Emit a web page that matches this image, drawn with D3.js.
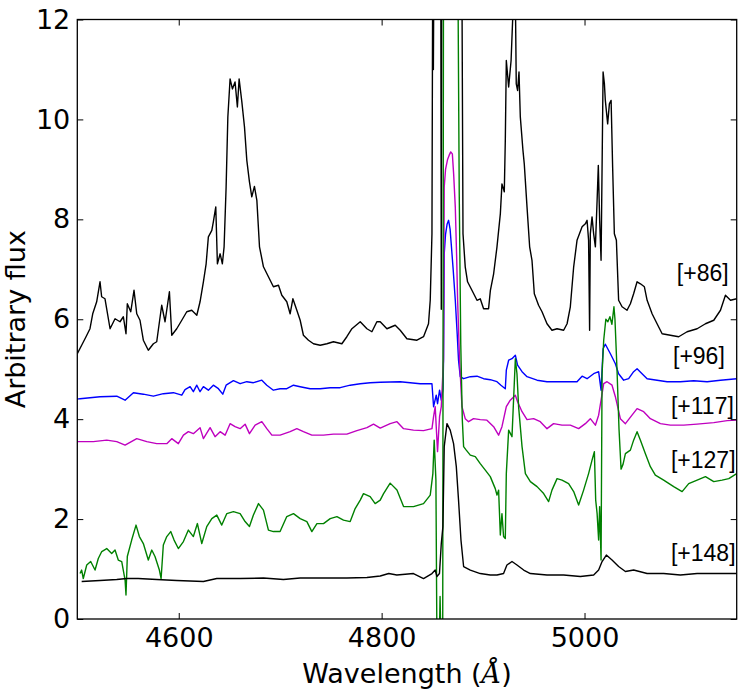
<!DOCTYPE html>
<html>
<head>
<meta charset="utf-8">
<script src="https://cdn.jsdelivr.net/npm/d3@7"></script>
<style>
  body { margin: 0; background: #fff; }
  .tick text { font-family: "DejaVu Sans", sans-serif; font-size: 27px; fill: #000; }
  .tick line { stroke: #000; stroke-width: 1; }
  .epoch { font-family: "Liberation Sans", Arial, sans-serif; font-size: 23px; fill: #000; }
</style>
</head>
<body>
<div id="chart"></div>
<script>
// Spectra: [wavelength (A), flux]
// ====================================================
var spec86 = [[4500,5.31],[4504.3,5.48],[4508.6,5.65],[4512.5,5.81],[4515.2,6.11],[4519.1,6.35],[4522.4,6.75],[4524,6.45],[4527.3,6.41],[4532.3,5.81],[4537.2,6.01],[4542.1,5.95],[4545.4,6.05],[4548,5.71],[4549.3,6.31],[4552.7,6.15],[4555.9,6.58],[4558.6,6.11],[4561.8,5.98],[4565.1,5.58],[4570,5.38],[4575,5.51],[4578.3,5.55],[4583.2,6.28],[4586.5,5.95],[4590.8,6.55],[4593.1,5.68],[4598,5.81],[4603,5.98],[4607.9,6.15],[4612.8,6.18],[4617.8,6.08],[4621,6.35],[4624.3,6.75],[4627,7.11],[4629.2,7.65],[4632.6,7.78],[4634.1,7.95],[4636.5,8.25],[4638.1,7.11],[4640.8,7.31],[4643,7.11],[4644.7,7.45],[4646.7,8.65],[4648.4,10.05],[4650.6,10.81],[4652.9,10.61],[4655.5,10.75],[4657.8,10.25],[4659.5,10.81],[4662.2,10.35],[4664.8,9.85],[4667.1,9.18],[4669.7,8.75],[4672,8.45],[4674.6,8.66],[4677,8.38],[4679.6,7.45],[4683.5,7.05],[4688.4,6.85],[4693.3,6.65],[4698.3,6.68],[4701.6,6.48],[4706.5,6.35],[4709.8,6.11],[4712.5,6.41],[4716.4,6.18],[4719.7,5.98],[4722.9,5.68],[4727.9,5.58],[4732.8,5.51],[4739.4,5.48],[4746,5.51],[4752.5,5.55],[4760.8,5.51],[4765.7,5.65],[4770.7,5.81],[4778.9,5.95],[4785.5,5.81],[4790.4,5.75],[4795.3,5.95],[4798.6,5.95],[4805.2,5.81],[4813.4,5.88],[4818.3,5.78],[4824.9,5.61],[4834.8,5.58],[4841.3,5.65],[4846.2,5.91],[4847.9,6.38],[4849.6,7.71],[4850.4,13.5],[4851.0,11.0],[4851.6,13.5],[4858.3,13.5],[4858.8,6.2],[4859.3,13.5],[4879.0,13.5],[4880.2,7.71],[4882.4,7.05],[4884.7,6.75],[4889,6.58],[4894,6.38],[4897.2,6.41],[4900.5,6.21],[4905.4,6.21],[4907.2,6.58],[4910.4,6.91],[4913.7,7.45],[4917,8.11],[4918.6,8.71],[4920.9,8.55],[4921.9,9.58],[4922.9,11.18],[4925.2,10.65],[4927.6,11.18],[4929.5,12.18],[4930.8,13.0],[4931.8,12.5],[4932.7,10.71],[4934,10.58],[4935.4,10.95],[4936.7,10.05],[4939.3,9.38],[4940.6,9.11],[4943.3,8.25],[4945.9,7.45],[4948.2,7.18],[4950.5,6.51],[4954.7,6.28],[4958.1,6.15],[4963,5.91],[4967.9,5.78],[4972.9,5.81],[4979.4,5.78],[4982.8,5.91],[4986,6.25],[4989.3,7.05],[4992.6,7.58],[4997.6,7.85],[5000.8,7.91],[5002.5,7.98],[5004,7.58],[5005,5.78],[5005.7,7.71],[5007.4,8.05],[5009,7.71],[5010.7,7.45],[5012.4,8.38],[5013.6,9.08],[5014.9,7.98],[5016.3,7.18],[5017.3,9.05],[5018.3,10.95],[5019.6,10.71],[5020.5,10.38],[5022.8,9.91],[5024.5,10.31],[5026.2,10.38],[5027.7,9.05],[5029.4,7.71],[5031.4,7.58],[5033.6,6.38],[5037,6.25],[5041.9,6.18],[5045.2,6.31],[5048.4,6.51],[5051.8,6.75],[5055.1,6.71],[5059,6.65],[5061.7,6.38],[5066.6,6.11],[5071.5,5.91],[5076.5,5.71],[5084.6,5.68],[5092.8,5.65],[5101.1,5.75],[5111,5.81],[5119.2,5.91],[5127.4,5.98],[5134,6.18],[5138.9,6.48],[5143.9,6.38],[5150,6.41]];

var spec96 = [[4500,4.40],[4502.7,4.41],[4522.4,4.45],[4538.9,4.46],[4547.1,4.38],[4555.3,4.53],[4565.1,4.5],[4575,4.46],[4584.8,4.51],[4594.7,4.53],[4603,4.48],[4606.2,4.59],[4611.2,4.65],[4614.4,4.55],[4617.8,4.68],[4621,4.55],[4624.3,4.65],[4629.2,4.58],[4634.1,4.68],[4639.1,4.61],[4643.4,4.5],[4646.7,4.68],[4653.9,4.77],[4660.5,4.71],[4667.1,4.75],[4673.6,4.73],[4681.9,4.78],[4686.8,4.68],[4693.3,4.58],[4699.9,4.61],[4706.5,4.61],[4713.1,4.68],[4719.7,4.65],[4729.5,4.61],[4739.4,4.61],[4749.3,4.63],[4759.1,4.63],[4769,4.68],[4778.9,4.71],[4788.7,4.73],[4798.6,4.74],[4818.3,4.75],[4838,4.71],[4849.6,4.71],[4851.2,4.25],[4853.8,4.48],[4855.1,4.31],[4857.1,4.58],[4858.8,4.38],[4860.5,4.6],[4861.0,5.18],[4861.7,7.31],[4863,7.7],[4864.5,7.9],[4866,7.98],[4867.5,7.8],[4869,7.4],[4870.5,7.0],[4872.6,6.38],[4874.5,5.7],[4875.8,5.18],[4877.5,4.85],[4880.8,4.81],[4887.4,4.85],[4894,4.86],[4900.5,4.81],[4907.1,4.79],[4913.7,4.75],[4917.6,4.68],[4921.9,4.61],[4922.9,4.98],[4925.2,5.18],[4928.5,5.21],[4931.8,5.28],[4934,5.08],[4938.4,4.95],[4943.3,4.85],[4953.2,4.78],[4963,4.75],[4972.9,4.75],[4982.8,4.75],[4992.6,4.75],[4997.6,4.86],[5002.5,4.81],[5009,4.91],[5013.9,4.95],[5016.3,4.58],[5018.3,5.41],[5020.5,5.5],[5025.5,5.31],[5030.4,5.11],[5033.6,4.91],[5038.6,4.78],[5043.5,4.81],[5048.4,4.95],[5051.8,5.01],[5056.7,4.91],[5061.7,4.81],[5071.5,4.78],[5081.4,4.75],[5094.5,4.75],[5107.6,4.77],[5120.8,4.75],[5134,4.78],[5150,4.81]];

var spec117 = [[4500,3.55],[4515.8,3.55],[4529,3.58],[4538.9,3.55],[4547.1,3.48],[4558.6,3.61],[4568.5,3.55],[4578.3,3.51],[4588.2,3.51],[4593.1,3.61],[4599.6,3.51],[4604.6,3.68],[4609.5,3.75],[4614.4,3.71],[4621,3.83],[4624.3,3.61],[4630.9,3.83],[4635.8,3.65],[4640.8,3.75],[4645.7,3.68],[4650.6,3.91],[4655.5,3.85],[4660.5,3.81],[4665.4,3.9],[4669.7,3.71],[4675.3,3.88],[4681.9,3.95],[4686.8,3.81],[4691.8,3.68],[4699.9,3.68],[4709.8,3.75],[4716.4,3.81],[4722.9,3.75],[4731.2,3.68],[4742.7,3.68],[4752.5,3.7],[4765.7,3.7],[4775.6,3.77],[4785.5,3.83],[4792,3.9],[4798.6,3.82],[4808.4,3.91],[4815.1,3.95],[4821.6,3.81],[4831.4,3.78],[4841.3,3.77],[4849.6,3.81],[4851.2,4.05],[4852.8,4.25],[4855.1,3.35],[4857.1,4.05],[4858.8,4.25],[4860.3,4.9],[4861.0,5.2],[4861.7,8.65],[4863,9.0],[4865,9.2],[4866.5,9.28],[4868.1,9.35],[4869.7,9.31],[4871,8.9],[4872.6,8.25],[4874,7.2],[4874.9,6.38],[4876.8,5.18],[4879.2,4.25],[4882.4,4.01],[4885.7,3.95],[4890.6,4.01],[4897.2,3.99],[4903.8,3.98],[4910.4,3.85],[4915.3,3.68],[4918.6,3.85],[4922.9,4.25],[4926.8,4.38],[4931.8,4.48],[4934,4.35],[4938.4,4.15],[4943.3,3.99],[4949.8,4.01],[4956.4,3.95],[4963,3.81],[4969.5,3.91],[4977.8,3.88],[4986,3.88],[4994.2,3.81],[5000.8,3.91],[5005.7,4.01],[5010.7,3.88],[5013.9,4.08],[5016.3,4.38],[5018.9,4.71],[5022.2,4.75],[5027.1,4.68],[5030.4,4.45],[5035.3,4.01],[5040.3,3.91],[5046.8,4.08],[5051.8,4.21],[5058.3,4.15],[5064.9,4.01],[5074.8,3.91],[5084.6,3.88],[5097.8,3.88],[5110.9,3.9],[5127.4,3.93],[5140.6,3.97],[5150,3.98]];

var spec127 = [[4502.7,0.91],[4504.3,0.98],[4505.9,0.81],[4509.3,1.08],[4513.2,1.15],[4517.5,0.98],[4520.7,1.21],[4524.1,1.35],[4529,1.41],[4533.9,1.31],[4537.2,1.38],[4540.4,1.18],[4543.8,1.15],[4547.1,0.78],[4548,0.48],[4549.3,1.25],[4553.6,1.58],[4557.9,1.88],[4561.2,1.65],[4565.1,1.51],[4570,1.18],[4573.4,1.38],[4576.6,1.25],[4580.9,0.98],[4582.6,0.81],[4584.8,1.48],[4588.2,1.65],[4592.1,1.75],[4595.4,1.58],[4599.6,1.41],[4604.6,1.55],[4609.5,1.78],[4614.4,1.65],[4618.4,1.91],[4622.7,1.51],[4627.6,1.85],[4632.6,2.01],[4637.5,2.08],[4642.4,1.88],[4647.4,2.11],[4653.9,2.15],[4660.5,2.11],[4665.4,1.95],[4669.7,1.85],[4673.6,2.08],[4678.6,2.31],[4683.5,2.18],[4688.4,1.78],[4693.3,1.75],[4699.9,1.75],[4706.5,2.05],[4713.1,2.11],[4719.7,2.01],[4726.3,1.95],[4731.2,1.75],[4736.2,1.91],[4742.7,1.91],[4749.3,2.01],[4755.9,2.05],[4762.4,1.98],[4769,1.95],[4773.9,2.21],[4778.9,2.38],[4782.1,2.51],[4788.7,2.45],[4793.6,2.31],[4798.6,2.38],[4801.9,2.51],[4808.4,2.72],[4815.1,2.58],[4821.6,2.25],[4831.4,2.25],[4841.3,2.31],[4847.9,2.48],[4850.5,2.91],[4851.8,3.58],[4853.5,2.78],[4854.5,-0.5],[4856.8,-0.5],[4857.6,0.45],[4858.5,-0.5],[4860.2,-0.5],[4861.0,13.5],[4875.0,13.5],[4876.5,8.5],[4878.0,5.5],[4879.5,4.0],[4880.8,3.45],[4883.4,3.38],[4887.4,3.28],[4892.3,3.25],[4897.2,3.11],[4902.2,2.98],[4907.1,2.85],[4912,2.61],[4913.7,2.48],[4915.3,2.58],[4917,1.68],[4918.6,2.11],[4920.2,1.65],[4921.9,1.61],[4922.9,2.91],[4925.2,3.78],[4928.5,3.65],[4931.8,5.21],[4933.4,4.91],[4935,4.25],[4938.4,3.45],[4941.7,2.91],[4946.6,2.75],[4953.2,2.65],[4959.7,2.51],[4964.6,2.35],[4967.9,2.58],[4972.9,2.81],[4977.8,2.78],[4984.3,2.71],[4989.3,2.55],[4994.2,2.28],[4999.1,2.58],[5004,2.91],[5007.4,3.18],[5009.7,3.35],[5011,2.38],[5012.4,2.11],[5013.9,1.58],[5014.9,2.25],[5016.3,1.18],[5017.3,4.91],[5018.9,5.58],[5021,6.0],[5023,5.95],[5025,6.05],[5027,5.9],[5029,6.25],[5030,6.0],[5032,5.0],[5034,3.8],[5036,3.0],[5038,3.1],[5040.3,3.31],[5045.2,3.38],[5048.4,3.58],[5051.8,3.75],[5055.1,3.58],[5060,3.31],[5064.9,3.05],[5069.8,2.88],[5078,2.78],[5087.9,2.65],[5096.2,2.55],[5102.7,2.71],[5111,2.78],[5119.2,2.85],[5127.4,2.75],[5135.6,2.78],[5142.2,2.81],[5150,2.91]];

var spec148 = [[4504.3,0.75],[4522.4,0.77],[4538.9,0.79],[4548.7,0.81],[4560,0.81],[4578.3,0.79],[4598,0.77],[4624.3,0.75],[4637.5,0.81],[4660.5,0.81],[4683.5,0.82],[4703.2,0.79],[4719.7,0.82],[4742.7,0.82],[4765.7,0.82],[4785.5,0.83],[4798.6,0.86],[4807,0.91],[4815,0.88],[4831.4,0.91],[4841.3,0.81],[4849.6,0.91],[4852.8,0.98],[4854.5,0.85],[4857,0.91],[4858.8,1.51],[4860.4,1.85],[4861.7,3.45],[4864.4,3.91],[4867.6,3.78],[4870.9,3.51],[4873.6,3.05],[4875.8,2.38],[4878.2,1.58],[4880.8,1.05],[4887.4,0.98],[4897.2,0.91],[4907.1,0.88],[4913.7,0.88],[4920.2,0.91],[4923.5,1.08],[4928.5,1.15],[4933.4,1.08],[4940,0.98],[4946.6,0.91],[4963,0.88],[4979.4,0.88],[4995.9,0.85],[5009,0.88],[5013.9,0.98],[5017.3,1.15],[5021.5,1.28],[5027.1,1.18],[5033.6,1.05],[5040.3,0.95],[5048.4,0.98],[5061.7,0.91],[5078,0.91],[5094.5,0.88],[5111,0.91],[5127.4,0.91],[5150,0.91]];

var epochs = ["[+86]", "[+96]", "[+117]", "[+127]", "[+148]"];
var colors = ["#000000", "#0000ff", "#bf00bf", "#008000", "#000000"];
var xTicks = [4600, 4800, 5000];
var yTicks = [0, 2, 4, 6, 8, 10, 12];

// Where each epoch label sits, in data units
var labelSpots = [[5091.0, 6.76], [5087.2, 5.1], [5085.2, 4.11], [5085.2, 3.03], [5085.2, 1.16]];

// Sizes
// =====
var width = 751;
var height = 694;
var margin = { top: 19.5, right: 14.3, bottom: 75, left: 77.3 };
var plotW = width - margin.left - margin.right;
var plotH = height - margin.top - margin.bottom;

var svg = d3.select("#chart")
    .append("svg")
    .attr("width", width)
    .attr("height", height);

var g = svg.append("g")
    .attr("transform", "translate(" + margin.left + "," + margin.top + ")");

var x = d3.scaleLinear().domain([4500, 5150]).range([0, plotW]);
var y = d3.scaleLinear().domain([0, 12]).range([plotH, 0]);

g.append("clipPath").attr("id", "plotClip")
    .append("rect")
    .attr("width", plotW)
    .attr("height", plotH);

// Spectra
var line = d3.line()
    .x(function(d) { return x(d[0]); })
    .y(function(d) { return y(d[1]); });

var allSpecs = [spec86, spec96, spec117, spec127, spec148];
g.append("g").attr("clip-path", "url(#plotClip)")
    .selectAll("path")
    .data(allSpecs)
    .enter().append("path")
    .attr("d", line)
    .attr("fill", "none")
    .attr("stroke", function(d, i) { return colors[i]; })
    .attr("stroke-width", 1.4)
    .attr("stroke-linejoin", "round");

// Epoch labels
g.selectAll(".epoch")
    .data(epochs)
    .enter().append("text")
    .attr("class", "epoch")
    .attr("x", function(d, i) { return x(labelSpots[i][0]); })
    .attr("y", function(d, i) { return y(labelSpots[i][1]); })
    .text(function(d) { return d; });

// Axes, ticks pointing inward on all four sides
var fmt = d3.format("d");

g.append("g")
    .attr("transform", "translate(0," + plotH + ")")
    .call(d3.axisBottom(x).tickValues(xTicks).tickFormat(fmt).tickSizeInner(-6).tickSizeOuter(0).tickPadding(9))
    .call(function(a) { a.select(".domain").remove(); });

g.append("g")
    .call(d3.axisTop(x).tickValues(xTicks).tickSizeInner(-6).tickSizeOuter(0).tickFormat(""))
    .call(function(a) { a.select(".domain").remove(); });

g.append("g")
    .call(d3.axisLeft(y).tickValues(yTicks).tickFormat(fmt).tickSizeInner(-6).tickSizeOuter(0).tickPadding(7))
    .call(function(a) { a.select(".domain").remove(); });

g.append("g")
    .attr("transform", "translate(" + plotW + ",0)")
    .call(d3.axisRight(y).tickValues(yTicks).tickSizeInner(-6).tickSizeOuter(0).tickFormat(""))
    .call(function(a) { a.select(".domain").remove(); });

g.append("rect")
    .attr("width", plotW)
    .attr("height", plotH)
    .attr("fill", "none")
    .attr("stroke", "#000")
    .attr("stroke-width", 1.3);

// Axis titles
var xLabel = svg.append("text")
    .attr("x", margin.left + plotW / 2)
    .attr("y", 683)
    .attr("text-anchor", "middle")
    .attr("font-family", "'DejaVu Sans', sans-serif")
    .attr("font-size", 27)
    .attr("fill", "#000");
xLabel.append("tspan").text("Wavelength (");
xLabel.append("tspan")
    .attr("font-family", "'DejaVu Serif', serif")
    .attr("font-style", "italic")
    .text("\u00C5");
xLabel.append("tspan").text(")");

svg.append("text")
    .attr("transform", "translate(25," + (margin.top + plotH / 2) + ")rotate(-90)")
    .attr("text-anchor", "middle")
    .attr("font-family", "'DejaVu Sans', sans-serif")
    .attr("font-size", 27)
    .attr("fill", "#000")
    .text("Arbitrary flux");
</script>
</body>
</html>
